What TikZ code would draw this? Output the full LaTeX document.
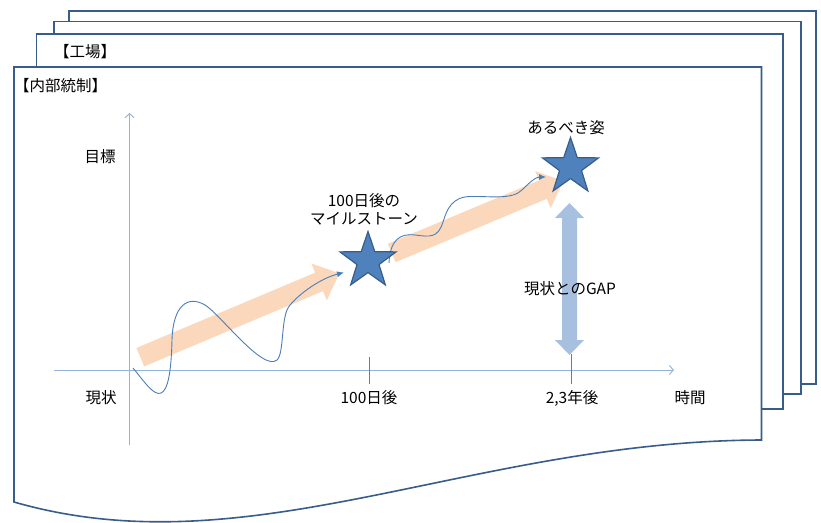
\documentclass[tikz,border=0pt]{standalone}
\usepackage{fontspec}
\setmainfont{Noto Sans CJK JP}
\usetikzlibrary{arrows.meta,shapes.geometric}
\definecolor{pageline}{RGB}{56,93,138}
\definecolor{axisblue}{RGB}{149,179,215}
\definecolor{tickblue}{RGB}{79,129,189}
\definecolor{waveblue}{RGB}{74,126,187}
\definecolor{starfill}{RGB}{79,129,189}
\definecolor{starline}{RGB}{56,93,138}
\definecolor{orangefill}{RGB}{251,216,188}
\definecolor{gapfill}{RGB}{168,192,224}
\begin{document}
\begin{tikzpicture}[x=1pt,y=-1pt,
  page/.style={draw=pageline, line width=1.6pt, fill=white, line join=miter},
  axis/.style={draw=axisblue, line width=0.9pt, -{Straight Barb[length=4pt,width=9pt]}},
  tickline/.style={draw=tickblue, line width=0.8pt},
  wave/.style={draw=waveblue, line width=0.9pt, -{Latex[length=7pt,width=6pt]}},
  starsh/.style={star, star points=5, star point ratio=2.55, minimum size=59pt, inner sep=0pt, fill=starfill, draw=starline, line width=1.2pt},
  lbl/.style={font=\fontsize{15.5}{18}\selectfont, inner sep=0pt, text=black},
  blockarrow/.style={fill=orangefill},
  gaparrow/.style={fill=gapfill}]
\useasboundingbox (0,0) rectangle (821,522);

% stacked pages
\path[page] (69,11) rectangle (816,384);
\path[page] (54,21.5) rectangle (801,394);
\path[page] (36.5,34) rectangle (783,409);
\path[page] (14,67) -- (761.5,67) -- (761.5,440)
  .. controls (470,441) and (250,570) .. (14,502) -- cycle;

% axes
\coordinate (yb) at (129.5,445);
\coordinate (yt) at (129.5,113);
\coordinate (xl) at (54,370);
\coordinate (xr) at (674,370);
\draw[axis] (yb) -- (yt);
\draw[axis] (xl) -- (xr);

% ticks
\coordinate (t1a) at (369,357);
\coordinate (t1b) at (369,384);
\coordinate (t2a) at (571,354);
\coordinate (t2b) at (571,384);
\draw[tickline] (t1a) -- (t1b);
\draw[tickline] (t2a) -- (t2b);

% orange block arrows
\begin{scope}[shift={(140.3,357.2)}, rotate=22.85]
  \fill[blockarrow] (0,-10) -- (194,-10) -- (194,-20) -- (216,0) -- (194,20) -- (194,10) -- (0,10) -- cycle;
\end{scope}
\begin{scope}[shift={(391.7,253)}, rotate=22.75]
  \fill[blockarrow] (0,-10) -- (164,-10) -- (164,-20) -- (186,0) -- (164,20) -- (164,10) -- (0,10) -- cycle;
\end{scope}

% gap double arrow
\fill[gaparrow] (569.5,203) -- (584,218) -- (577,218) -- (577,340) -- (584,340)
  -- (569.5,355) -- (555,340) -- (562,340) -- (562,218) -- (555,218) -- cycle;

% wavy paths
\coordinate (w1s) at (133,368);
\coordinate (w1e) at (344,272.5);
\draw[wave] (w1s) .. controls (150,388) and (170,425) .. (172,340)
  .. controls (173,305) and (188,295) .. (205,305)
  .. controls (220,314) and (263,372) .. (277,360)
  .. controls (284,354) and (281,320) .. (288,308)
  .. controls (294,298) and (318,279) .. (w1e);

\coordinate (w2s) at (389,263);
\coordinate (w2e) at (546,177);
\draw[wave] (w2s) .. controls (390,240) and (400,233) .. (415,235)
  .. controls (430,237) and (438,238) .. (443,222)
  .. controls (447,209) and (452,197) .. (470,196.5)
  .. controls (490,196) and (512,200) .. (522,190)
  .. controls (530,182) and (536,177) .. (w2e);

% stars
\node[starsh] (s1) at (368,261) {};
\node[starsh] (s2) at (570.5,167) {};

% labels
\node[lbl, anchor=west] (lic) at (14,86) {【内部統制】};
\node[lbl, anchor=west] (lfac) at (54,51.5) {【工場】};
\node[lbl] (lmk) at (100,157) {目標};
\node[lbl] (lnow) at (101,398) {現状};
\node[lbl] (l100) at (369,398) {100日後};
\node[lbl] (l23) at (572,398) {2,3年後};
\node[lbl] (ltime) at (690,398) {時間};
\node[lbl, align=center] (lms) at (364,209) {100日後の\\マイルストーン};
\node[lbl] (lideal) at (566,128) {あるべき姿};
\node[lbl] (lgap) at (570,289) {現状とのGAP};
\end{tikzpicture}
\end{document}
